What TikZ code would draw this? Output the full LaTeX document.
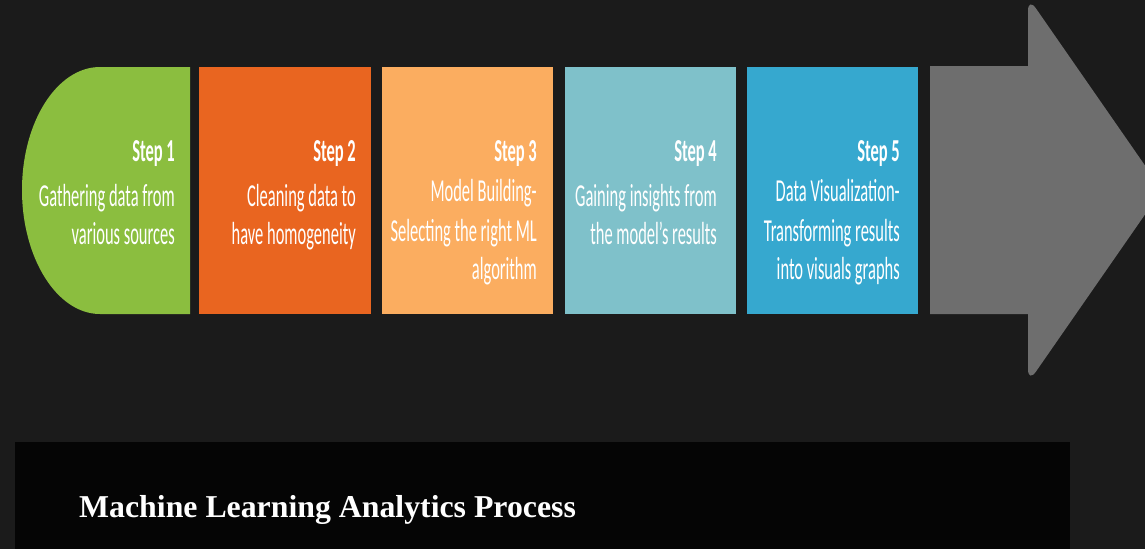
\documentclass[tikz,border=0pt]{standalone}
\usepackage{fontspec}
\newfontfamily\stepfont[FakeStretch=0.515]{Carlito}
\newfontfamily\titlefont{Liberation Serif}
\definecolor{bgc}{HTML}{1B1B1B}
\definecolor{panelc}{HTML}{050505}
\definecolor{cgreen}{HTML}{8BBE3F}
\definecolor{corange}{HTML}{E96520}
\definecolor{clorange}{HTML}{FBAD60}
\definecolor{cteal}{HTML}{7FC1CA}
\definecolor{cblue}{HTML}{36A8CF}
\definecolor{cgray}{HTML}{6E6E6E}
\tikzset{
  stepbox/.style={rectangle, draw=none, inner sep=0pt, minimum width=172pt, minimum height=247pt, anchor=north west},
  steptext/.style={text=white, align=right, inner sep=0pt, anchor=north east, font=\stepfont\fontsize{32}{38.5}\selectfont},
  titletext/.style={text=white, inner sep=0pt, anchor=base west, font=\titlefont\bfseries\fontsize{31.8}{36}\selectfont}
}
\newcommand{\steplabel}[2]{\strut\textbf{#1}\\[#2]}
\begin{document}
\begin{tikzpicture}[x=1pt,y=-1pt]
\useasboundingbox (0,0) rectangle (1145,549);
\clip (0,0) rectangle (1145,549);
\fill[bgc] (0,0) rectangle (1145,549);
% step 1 shape
\fill[cgreen] (190,67) -- (100,67) .. controls (57,67) and (22,122) .. (22,190)
  .. controls (22,258) and (57,314) .. (100,314) -- (190,314) -- cycle;
\node[stepbox, fill=corange] (b2) at (199,67) {};
\node[stepbox, fill=clorange, minimum width=171pt] (b3) at (382,67) {};
\node[stepbox, fill=cteal, minimum width=171pt] (b4) at (565,67) {};
\node[stepbox, fill=cblue, minimum width=171pt] (b5) at (747,67) {};
% big arrow
\fill[cgray] (930,66) -- (1028,66) [rounded corners=14pt] -- (1028,-3) -- (1162,190) -- (1028,383) [sharp corners] -- (1028,314) -- (930,314) -- cycle;
% texts (top of strut = baseline 161 - 27)
\node[steptext] (t1) at (175,134) {\steplabel{Step 1}{6.5pt}Gathering data from\\various sources};
\node[steptext] (t2) at (356,134) {\steplabel{Step 2}{6.5pt}Cleaning data to\\have homogeneity};
\node[steptext] (t3) at (537,134) {\steplabel{Step 3}{1.5pt}Model Building-\\[1.5pt]Selecting the right ML\\algorithm};
\node[steptext] (t4) at (717,134) {\steplabel{Step 4}{6.5pt}Gaining insights from\\the model’s results};
\node[steptext] (t5) at (900,134) {\steplabel{Step 5}{1.5pt}Data Visualization-\\[1.5pt]Transforming results\\into visuals graphs};
% bottom panel
\fill[panelc] (15,442) rectangle (1070,549);
\node[titletext] (title) at (79,517) {Machine Learning Analytics Process};
\end{tikzpicture}
\end{document}
